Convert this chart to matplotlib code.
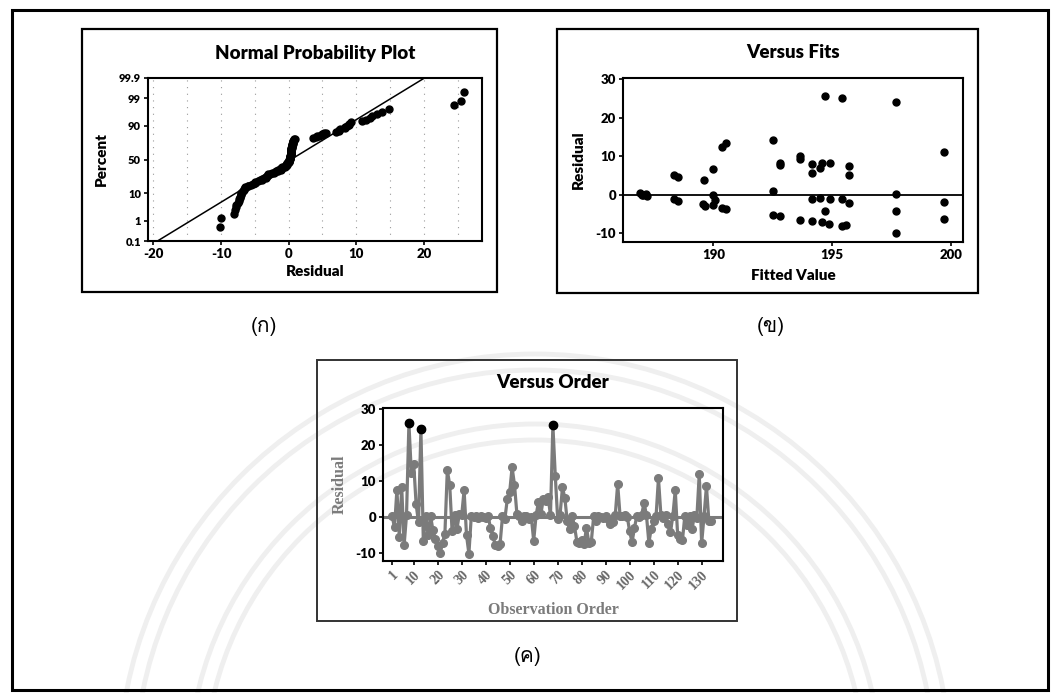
import statistics
import numpy as np
import matplotlib
matplotlib.use('Agg')
import matplotlib.pyplot as plt
from matplotlib import font_manager, ft2font
from matplotlib.patches import Rectangle, Circle

order_resid = [
    0.2, -2.8, 7.6, -5.5, 8.3, -7.8, 0.5, 26.0, 12.3, 14.8,
    3.6, -1.5, 24.5, -6.6, 0.3, -5.0, 0.4, -3.6, -6.0, -8.1,
    -10.0, -7.2, -4.6, 13.0, 9.0, -4.0, 0.6, -3.4, 0.8, 0.5,
    7.5, -5.0, -10.2, 0.3, 0.1, 0.2, -0.3, 0.4, 0.1, -0.2,
    0.3, -3.0, -5.2, -7.8, -8.0, -7.4, 0.2, -0.5, 5.0, 7.0,
    13.8, 9.0, 0.9, 0.3, -1.2, 0.4, 0.2, -0.4, 0.1, -6.6,
    0.5, 4.2, 0.8, 5.0, 4.5, 5.5, 0.6, 25.5, 11.5, -0.6,
    0.7, 8.3, 5.2, -1.2, -3.4, 0.4, -2.5, -6.8, -7.2, -6.5,
    -7.5, -3.0, -7.1, -6.9, 0.2, -1.0, 0.3, 0.1, -0.2, 0.4,
    -0.4, -2.0, -1.5, 0.6, 9.2, 0.3, 0.2, 0.5, 0.1, -4.0,
    -7.0, -3.0, 0.4, 0.1, 0.6, 4.0, 0.5, -7.1, -3.2, -1.1,
    0.2, 10.8, 0.7, -0.3, 0.5, -1.8, -4.2, 0.3, 7.5, -5.0,
    -6.0, -6.4, 0.4, -2.2, 0.2, -3.3, 0.5, -0.2, 12.0, -7.3,
    0.3, 8.6, -1.0, -1.2,
]

fit_x = [186.9, 187.0, 187.05, 187.15, 187.2,
         188.35, 188.5, 188.35, 188.5,
         189.6, 189.55, 189.65,
         190.0, 190.0, 190.05, 190.0,
         190.35, 190.35, 190.55, 190.55,
         192.5, 192.5, 192.5, 192.8, 192.8, 192.8,
         193.65, 193.65, 193.65,
         194.15, 194.15, 194.15, 194.15,
         194.7, 194.55, 194.5, 194.5, 194.7, 194.55,
         194.9, 194.9, 194.85,
         195.4, 195.4, 195.4,
         195.7, 195.7, 195.7, 195.6,
         197.7, 197.7, 197.7, 197.7,
         199.7, 199.7, 199.7]
fit_y = [0.3, -0.2, 0.0, 0.2, -0.4,
         5.2, 4.6, -1.2, -1.7,
         3.7, -2.4, -2.9,
         6.6, -0.2, -1.5, -2.6,
         12.3, -3.4, 13.3, -3.8,
         14.2, 0.9, -5.2, 8.2, 7.8, -5.6,
         10.1, 9.2, -6.7,
         8.0, 5.6, -1.1, -6.8,
         25.6, 8.2, 7.0, -1.0, -4.2, -7.2,
         8.1, -1.1, -7.5,
         25.0, -1.1, -8.2,
         7.4, 5.1, -2.1, -8.0,
         24.0, 0.2, -4.2, -10.0,
         11.0, -1.8, -6.3]

pct_ticks = [0.1, 1, 10, 50, 90, 99, 99.9]
pct_labels = ['0.1', '1', '10', '50', '90', '99', '99.9']
order_ticks = [1, 10, 20, 30, 40, 50, 60, 70, 80, 90, 100, 110, 120, 130]


def find_font(ch, fallback='DejaVu Sans'):
    for f in font_manager.fontManager.ttflist:
        try:
            if ft2font.FT2Font(f.fname).get_char_index(ord(ch)):
                return f.name
        except Exception:
            pass
    return fallback


thai_font = find_font('\u0e01')
sans = 'Lato'
serif = 'Liberation Serif'
grey = '#7b7b7b'
tick_fs = 9.5
label_fs = 11

W, H = 1052, 693
fig = plt.figure(figsize=(W / 100, H / 100), dpi=100)

bg = fig.add_axes([0, 0, 1, 1])
bg.set_xlim(0, W)
bg.set_ylim(H, 0)
bg.axis('off')

# faint watermark rings
for r in [330, 346, 400, 416]:
    bg.add_patch(Circle((535, 770), r, fill=False, ec='#efefef', lw=3.5, zorder=0))

# page frame and panel boxes
bg.add_patch(Rectangle((12, 10), 1036, 680, fill=False, ec='black', lw=2.2))
bg.add_patch(Rectangle((82, 29), 415, 263, fill=False, ec='black', lw=1.6))
bg.add_patch(Rectangle((557, 29), 421, 264, fill=False, ec='black', lw=1.6))
bg.add_patch(Rectangle((317, 360), 420, 261, fill=False, ec='#333333', lw=1.4))


def px_axes(x0, y0, x1, y1):
    ax = fig.add_axes([x0 / W, 1 - y1 / H, (x1 - x0) / W, (y1 - y0) / H])
    ax.set_facecolor('none')
    for s in ax.spines.values():
        s.set_linewidth(1.5)
    ax.tick_params(direction='out', length=3, width=1.2, pad=2)
    return ax


# (a) normal probability plot
nd = statistics.NormalDist()
res_sorted = np.sort(order_resid)
n = len(res_sorted)
pos = (np.arange(1, n + 1) - 0.3) / (n + 0.4)
zq = np.array([nd.inv_cdf(p) for p in pos])
mu = np.mean(order_resid)
sd = np.std(order_resid, ddof=1)

ax1 = px_axes(148, 78, 482, 241)
zline = np.array([-3.5, 3.5])
ax1.plot(mu + sd * zline, zline, color='black', lw=1.1)
ax1.plot(res_sorted, zq, 'o', color='black', ms=5)
ax1.set_xlim(-20.8, 28.6)
ax1.set_ylim(nd.inv_cdf(0.001), nd.inv_cdf(0.999))
ax1.set_yticks([nd.inv_cdf(p / 100) for p in pct_ticks])
ax1.set_yticklabels(pct_labels, fontsize=8, fontweight='heavy', family=sans)
ax1.set_xticks([-20, -10, 0, 10, 20])
ax1.set_xticklabels(['-20', '-10', '0', '10', '20'], fontsize=tick_fs,
                    fontweight='heavy', family=sans)
for gx in range(-20, 30, 5):
    ax1.axvline(gx, color='#9a9a9a', lw=0.8, ls=(0, (1, 5)), zorder=0)
ax1.set_xlabel('Residual', fontsize=label_fs, fontweight='heavy', family=sans, labelpad=4)
ax1.set_ylabel('Percent', fontsize=label_fs, fontweight='heavy', family=sans, labelpad=8)

# (b) versus fits
ax2 = px_axes(623, 78, 963, 242)
ax2.axhline(0, color='black', lw=1.3)
ax2.plot(fit_x, fit_y, 'o', color='black', ms=5)
ax2.set_xlim(186.2, 200.5)
ax2.set_ylim(-12.3, 30.3)
ax2.set_xticks([190, 195, 200])
ax2.set_xticklabels(['190', '195', '200'], fontsize=tick_fs, fontweight='heavy',
                    family=sans)
ax2.set_yticks([-10, 0, 10, 20, 30])
ax2.set_yticklabels(['-10', '0', '10', '20', '30'], fontsize=tick_fs,
                    fontweight='heavy', family=sans)
ax2.set_xlabel('Fitted Value', fontsize=label_fs, fontweight='heavy', family=sans,
               labelpad=6)
ax2.set_ylabel('Residual', fontsize=label_fs, fontweight='heavy', family=sans,
               labelpad=8)

# (c) versus order
obs = np.arange(1, len(order_resid) + 1)
res = np.array(order_resid)
ax3 = px_axes(383, 408, 723, 561)
ax3.axhline(0, color=grey, lw=2.2)
ax3.plot(obs, res, '-', color=grey, lw=2.3)
ax3.plot(obs, res, 'o', color=grey, ms=5.5)
big = res > 20
ax3.plot(obs[big], res[big], 'o', color='black', ms=6)
ax3.set_xlim(-2.8, 138.9)
ax3.set_ylim(-12.2, 30.3)
ax3.set_yticks([-10, 0, 10, 20, 30])
ax3.set_yticklabels(['-10', '0', '10', '20', '30'], fontsize=tick_fs,
                    fontweight='heavy', family=sans)
ax3.set_xticks(order_ticks)
ax3.set_xticklabels([str(t) for t in order_ticks], rotation=45, ha='right',
                    rotation_mode='anchor', fontsize=10, fontweight='bold',
                    family=serif, color='#666666')
ax3.set_xlabel('Observation Order', fontsize=11.5, fontweight='bold', family=serif,
               color=grey, labelpad=7)
ax3.set_ylabel('Residual', fontsize=11.5, fontweight='bold', family=serif,
               color=grey, labelpad=6)

# titles and panel captions
bg.text(315, 53, 'Normal Probability Plot', ha='center', va='center',
        fontsize=13.5, fontweight='heavy', family=sans)
bg.text(793, 52, 'Versus Fits', ha='center', va='center',
        fontsize=13.5, fontweight='heavy', family=sans)
bg.text(553, 382, 'Versus Order', ha='center', va='center',
        fontsize=13.5, fontweight='heavy', family=sans)
bg.text(264, 327, '(\u0e01)', ha='center', va='center', fontsize=15, family=thai_font)
bg.text(771, 327, '(\u0e02)', ha='center', va='center', fontsize=15, family=thai_font)
bg.text(528, 657, '(\u0e04)', ha='center', va='center', fontsize=15, family=thai_font)

fig.savefig('out.png', dpi=100)
